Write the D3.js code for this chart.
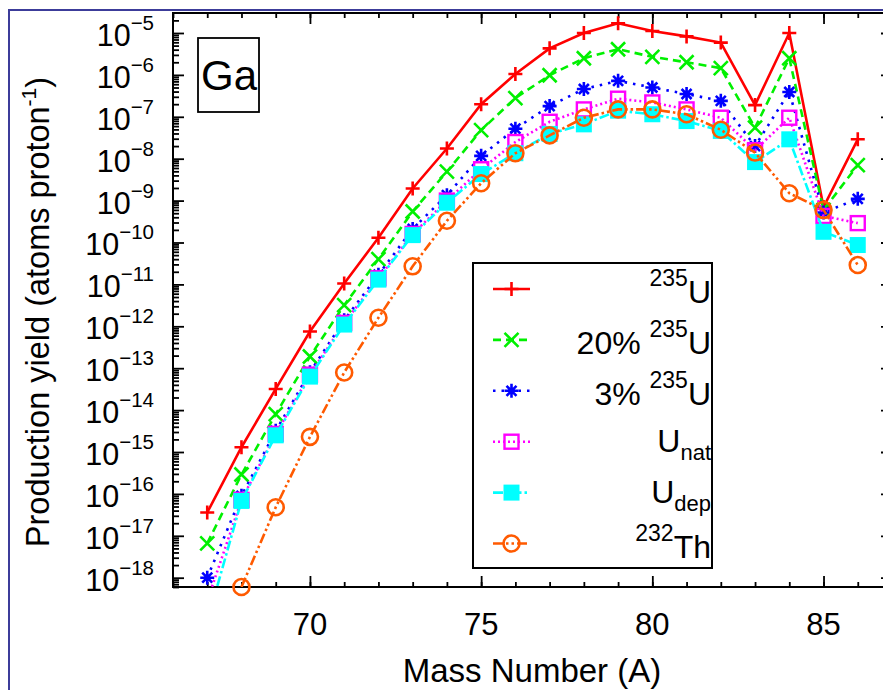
<!DOCTYPE html>
<html><head><meta charset="utf-8">
<script src="https://cdn.jsdelivr.net/npm/d3@7"></script>
<style>body{margin:0;background:#fff}svg{display:block}text{font-family:"Liberation Sans",Arial,Helvetica,sans-serif;fill:#000}</style>
</head><body><svg id="c" width="883" height="690"></svg>
<script>
// ---- data ----
const massNumbers = [67,68,69,70,71,72,73,74,75,76,77,78,79,80,81,82,83,84,85,86];
const yU235   = [3.6e-17,1.3e-15,3.2e-14,7.5e-13,1.05e-11,1.3e-10,1.95e-9,1.75e-8,2e-7,1.05e-6,4.3e-6,1.0e-5,1.7e-5,1.12e-5,8.3e-6,5.9e-6,1.9e-7,1.0e-5,7e-10,2.9e-8];
const yU235_20= [6.6e-18,2.9e-16,8e-15,1.9e-13,3.2e-12,4e-11,5.5e-10,4.9e-9,4.8e-8,2.8e-7,9.8e-7,2.5e-6,4.1e-6,2.7e-6,2e-6,1.45e-6,5.5e-8,2.5e-6,6e-10,7e-9];
const yU235_3 = [1e-18,9e-17,3.2e-15,8e-14,1.4e-12,1.7e-11,2.1e-10,1.35e-9,1.17e-8,5.2e-8,1.8e-7,4.6e-7,7.2e-7,5e-7,3.5e-7,2.4e-7,2e-8,3.9e-7,5.2e-10,1.1e-9];
const yUnat   = [2.8e-19,7.2e-17,2.7e-15,7e-14,1.2e-12,1.4e-11,1.6e-10,1.0e-9,5.6e-9,2.5e-8,7.6e-8,1.5e-7,2.7e-7,2.2e-7,1.5e-7,9.5e-8,1.6e-8,9.5e-8,4.3e-10,2.9e-10];
const yUdep   = [9e-20,6.8e-17,2.5e-15,6.3e-14,1.1e-12,1.3e-11,1.5e-10,8.9e-10,4.3e-9,1.35e-8,3.9e-8,6.6e-8,1.4e-7,1.15e-7,7.9e-8,4.6e-8,8.3e-9,2.9e-8,1.8e-10,8.7e-11];
const yTh232  = [null,6e-19,4.8e-17,2.3e-15,7.9e-14,1.6e-12,2.7e-11,3.3e-10,2.6e-9,1.35e-8,3.6e-8,9.5e-8,1.5e-7,1.5e-7,1.15e-7,4.9e-8,1.4e-8,1.5e-9,6e-10,2.9e-11];
const seriesKeys = ["U235","U235_20","U235_3","Unat","Udep","Th232"];
const xTickLabels = [70,75,80,85];
const yTickExponents = [-18,-17,-16,-15,-14,-13,-12,-11,-10,-9,-8,-7,-6,-5];
const elementLabel = "Ga";
const xTitle = "Mass Number (A)";

// ---- styles ----
const seriesValues = [yU235,yU235_20,yU235_3,yUnat,yUdep,yTh232];
const styles = {
  U235:   {color:"#ff0000", dash:null,            sym:"plus"},
  U235_20:{color:"#00f000", dash:"8,5",           sym:"cross"},
  U235_3: {color:"#0000ff", dash:"2.5,6",         sym:"star"},
  Unat:   {color:"#ff00ff", dash:"2,3",           sym:"osquare"},
  Udep:   {color:"#00ffff", dash:"10,3,2.5,3",    sym:"fsquare"},
  Th232:  {color:"#ff5a00", dash:"10,3,2.5,3,2.5,3", sym:"circle"}
};

const svg = d3.select("#c");
const L=173, T=13, R=892, B=587;
const x = d3.scaleLinear().domain([66,87]).range([L,R]);
const y = d3.scaleLog().domain([6e-19,3e-5]).range([B,T]);

// outer frame
svg.append("rect").attr("x",9).attr("y",10).attr("width",900).attr("height",700)
  .attr("fill","none").attr("stroke","#3c3c9a").attr("stroke-width",2);

svg.append("defs").append("clipPath").attr("id","plotclip")
  .append("rect").attr("x",L).attr("y",T).attr("width",R-L).attr("height",B-T);

// axes (ticks inward)
const majorX = xTickLabels;
const minorX = d3.range(66,88);
function axisTicks(gen, size){ return gen.tickSize(size).tickSizeOuter(0).tickFormat(""); }
const gAx = svg.append("g");
gAx.append("g").attr("transform",`translate(0,${B})`).call(axisTicks(d3.axisBottom(x).tickValues(minorX),-5));
gAx.append("g").attr("transform",`translate(0,${B})`).call(axisTicks(d3.axisBottom(x).tickValues(majorX),-11));
gAx.append("g").attr("transform",`translate(0,${T})`).call(axisTicks(d3.axisTop(x).tickValues(minorX),-5));
gAx.append("g").attr("transform",`translate(0,${T})`).call(axisTicks(d3.axisTop(x).tickValues(majorX),-11));
const majorY = yTickExponents.map(e=>Math.pow(10,e));
const minorY = [];
for (let e=-19;e<=-5;e++) for (let k=2;k<=9;k++){ const v=k*Math.pow(10,e); if(v>=6e-19 && v<=3e-5) minorY.push(v); }
gAx.append("g").attr("transform",`translate(${L},0)`).call(axisTicks(d3.axisLeft(y).tickValues(minorY),-6));
gAx.append("g").attr("transform",`translate(${L},0)`).call(axisTicks(d3.axisLeft(y).tickValues(majorY),-11));
gAx.append("g").attr("transform",`translate(${R},0)`).call(axisTicks(d3.axisRight(y).tickValues(minorY),-6));
gAx.append("g").attr("transform",`translate(${R},0)`).call(axisTicks(d3.axisRight(y).tickValues(majorY),-11));
gAx.selectAll("path.domain").remove();
gAx.selectAll("line").attr("stroke","#000").attr("stroke-width",1.8);
svg.append("rect").attr("x",L).attr("y",T).attr("width",R-L).attr("height",B-T)
  .attr("fill","none").attr("stroke","#000").attr("stroke-width",2);

// tick labels
xTickLabels.forEach(v=>{
  svg.append("text").attr("x",x(v)).attr("y",635).attr("text-anchor","middle")
    .attr("font-size",31).text(v);
});
yTickExponents.forEach(e=>{
  const t = svg.append("text").attr("x",154).attr("y",y(Math.pow(10,e))+13).attr("text-anchor","end").attr("font-size",30.5);
  t.append("tspan").text("10");
  t.append("tspan").attr("font-size",20.5).attr("dy",-16).text("\u2212"+Math.abs(e));
});

// titles
svg.append("text").attr("x",532).attr("y",682).attr("text-anchor","middle").attr("font-size",33).text(xTitle);
const yt = svg.append("text").attr("transform","translate(49,312) rotate(-90)").attr("text-anchor","middle").attr("font-size",32.5);
yt.append("tspan").text("Production yield (atoms proton");
yt.append("tspan").attr("font-size",21).attr("dy",-13).text("-1");
yt.append("tspan").attr("dy",13).text(")");

// symbols
function drawSym(g, sym, color){
  const s=7;
  if(sym==="plus") g.append("path").attr("d",`M${-s},0H${s}M0,${-s}V${s}`).attr("stroke",color).attr("stroke-width",2.6).attr("fill","none");
  if(sym==="cross") g.append("path").attr("d",`M${-s},${-s}L${s},${s}M${-s},${s}L${s},${-s}`).attr("stroke",color).attr("stroke-width",2.6).attr("fill","none");
  if(sym==="star") g.append("path").attr("d",`M${-s},0H${s}M0,${-s}V${s}M-5,-5L5,5M-5,5L5,-5`).attr("stroke",color).attr("stroke-width",2.6).attr("fill","none");
  if(sym==="osquare") g.append("rect").attr("x",-7).attr("y",-7).attr("width",14).attr("height",14).attr("stroke",color).attr("stroke-width",2.4).attr("fill","none");
  if(sym==="fsquare") g.append("rect").attr("x",-8).attr("y",-8).attr("width",16).attr("height",16).attr("fill",color);
  if(sym==="circle") g.append("circle").attr("r",8).attr("stroke",color).attr("stroke-width",2.6).attr("fill","none");
}

const line = d3.line().defined(d=>d.v!=null).x(d=>x(d.a)).y(d=>y(d.v));
seriesKeys.forEach((k,i)=>{
  const st = styles[k];
  const data = massNumbers.map((a,j)=>({a, v: seriesValues[i][j]}));
  const g = svg.append("g");
  g.append("path").datum(data).attr("d",line).attr("clip-path","url(#plotclip)")
    .attr("fill","none").attr("stroke",st.color).attr("stroke-width",2.6)
    .attr("stroke-dasharray",st.dash);
  data.filter(d=>d.v!=null && d.v>=5.9e-19).forEach(d=>{
    drawSym(g.append("g").attr("transform",`translate(${x(d.a)},${y(d.v)})`), st.sym, st.color);
  });
});

// element label
svg.append("rect").attr("x",198).attr("y",38).attr("width",61).attr("height",74).attr("fill","#fff").attr("stroke","#000").attr("stroke-width",1.8);
svg.append("text").attr("x",229).attr("y",90).attr("text-anchor","middle").attr("font-size",42).text(elementLabel);

// legend
const lg = svg.append("g");
lg.append("rect").attr("x",473).attr("y",263).attr("width",239).attr("height",305).attr("fill","#fff").attr("stroke","#000").attr("stroke-width",2);
const legendRows = [
  {pre:"", sup:"235", main:"U", sub:""},
  {pre:"20% ", sup:"235", main:"U", sub:""},
  {pre:"3% ", sup:"235", main:"U", sub:""},
  {pre:"", sup:"", main:"U", sub:"nat"},
  {pre:"", sup:"", main:"U", sub:"dep"},
  {pre:"", sup:"232", main:"Th", sub:""}
];
seriesKeys.forEach((k,i)=>{
  const st = styles[k];
  const cy = 289 + i*50.9;
  lg.append("line").attr("x1",493).attr("x2",530).attr("y1",cy).attr("y2",cy)
    .attr("stroke",st.color).attr("stroke-width",2.6).attr("stroke-dasharray",st.dash);
  drawSym(lg.append("g").attr("transform",`translate(511.5,${cy})`), st.sym, st.color);
  const r = legendRows[i];
  const t = lg.append("text").attr("x",711).attr("y",cy + (r.sub?10:14)).attr("text-anchor","end").attr("font-size",32);
  if(r.pre) t.append("tspan").text(r.pre);
  if(r.sup){ t.append("tspan").attr("font-size",23).attr("dy",-17).text(r.sup); t.append("tspan").attr("dy",17).text(r.main); }
  else t.append("tspan").text(r.main);
  if(r.sub) t.append("tspan").attr("font-size",22).attr("dy",8).text(r.sub);
});
</script></body></html>
